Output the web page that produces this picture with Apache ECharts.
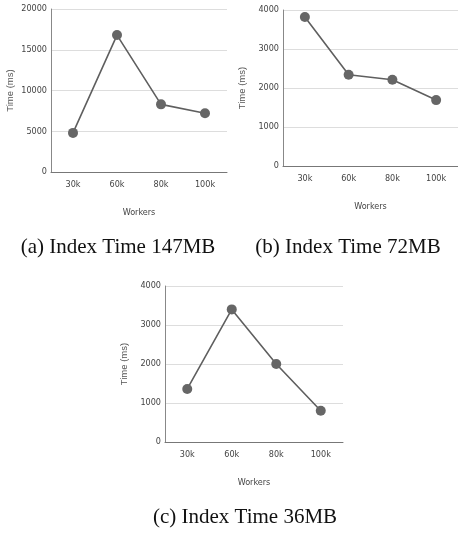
<!DOCTYPE html>
<html>
<head>
<meta charset="utf-8">
<script src="https://cdn.jsdelivr.net/npm/echarts@6/dist/echarts.min.js"></script>
<style>
html,body{margin:0;padding:0;background:#fff;}
#c{width:458px;height:533px;}
</style>
</head>
<body>
<div id="c"></div>
<script>
var categories = ['30k', '60k', '80k', '100k'];
var timeA = [4800, 16800, 8300, 7200];   // 147MB
var timeB = [3820, 2340, 2210, 1690];    // 72MB
var timeC = [1360, 3400, 2000, 800];     // 36MB
var yMaxA = 20000, yIntA = 5000;
var yMaxB = 4000, yIntB = 1000;
var yMaxC = 4000, yIntC = 1000;
var captions = ['(a) Index Time 147MB', '(b) Index Time 72MB', '(c) Index Time 36MB'];
var xTitle = 'Workers';
var yTitle = 'Time (ms)';

var grids = [
  {left: 51, top: 9, width: 176, height: 163},
  {left: 283, top: 10, width: 180, height: 156},
  {left: 165, top: 286, width: 178, height: 156}
];
var maxes = [yMaxA, yMaxB, yMaxC];
var ints = [yIntA, yIntB, yIntC];
var datas = [timeA, timeB, timeC];
var narrow = '"Liberation Sans Narrow", "DejaVu Sans Condensed", "Roboto Condensed", "Arial Narrow", sans-serif';

var xAxes = [], yAxes = [], series = [];
for (var i = 0; i < 3; i++) {
  xAxes.push({
    type: 'category', gridIndex: i, data: categories, boundaryGap: true,
    axisLine: {lineStyle: {color: '#777', width: 1}},
    axisTick: {show: false},
    axisLabel: {color: '#444', fontSize: 9, fontFamily: narrow, margin: 8},
    name: xTitle, nameLocation: 'middle', nameGap: 36,
    nameTextStyle: {color: '#444', fontSize: 9, fontFamily: narrow}
  });
  yAxes.push({
    type: 'value', gridIndex: i, min: 0, max: maxes[i], interval: ints[i],
    axisLine: {show: true, lineStyle: {color: '#888', width: 1}},
    axisTick: {show: false},
    splitLine: {lineStyle: {color: '#ddd', width: 1}},
    axisLabel: {color: '#444', fontSize: 9, fontFamily: narrow, margin: 4,
                formatter: function (v) { return String(v); }},
    name: yTitle, nameLocation: 'middle', nameRotate: 90, nameGap: 36,
    nameTextStyle: {color: '#555', fontSize: 9.5, fontFamily: '"Liberation Sans", Arial, sans-serif'}
  });
  series.push({
    type: 'line', xAxisIndex: i, yAxisIndex: i, data: datas[i],
    symbol: 'circle', symbolSize: 10,
    lineStyle: {color: '#5f5f5f', width: 1.6},
    itemStyle: {color: '#666'},
    animation: false
  });
}

var capPos = [[118, 247], [348, 247], [245, 517]];
var graphics = captions.map(function (t, k) {
  return {
    type: 'text', x: capPos[k][0], y: capPos[k][1],
    style: {text: t, font: '21px "Liberation Serif", "Times New Roman", serif',
            fill: '#111', textAlign: 'center', textVerticalAlign: 'middle'}
  };
});

var chart = echarts.init(document.getElementById('c'), null, {renderer: 'canvas'});
chart.setOption({
  animation: false,
  grid: grids,
  xAxis: xAxes,
  yAxis: yAxes,
  series: series,
  graphic: graphics
});
</script>
</body>
</html>
